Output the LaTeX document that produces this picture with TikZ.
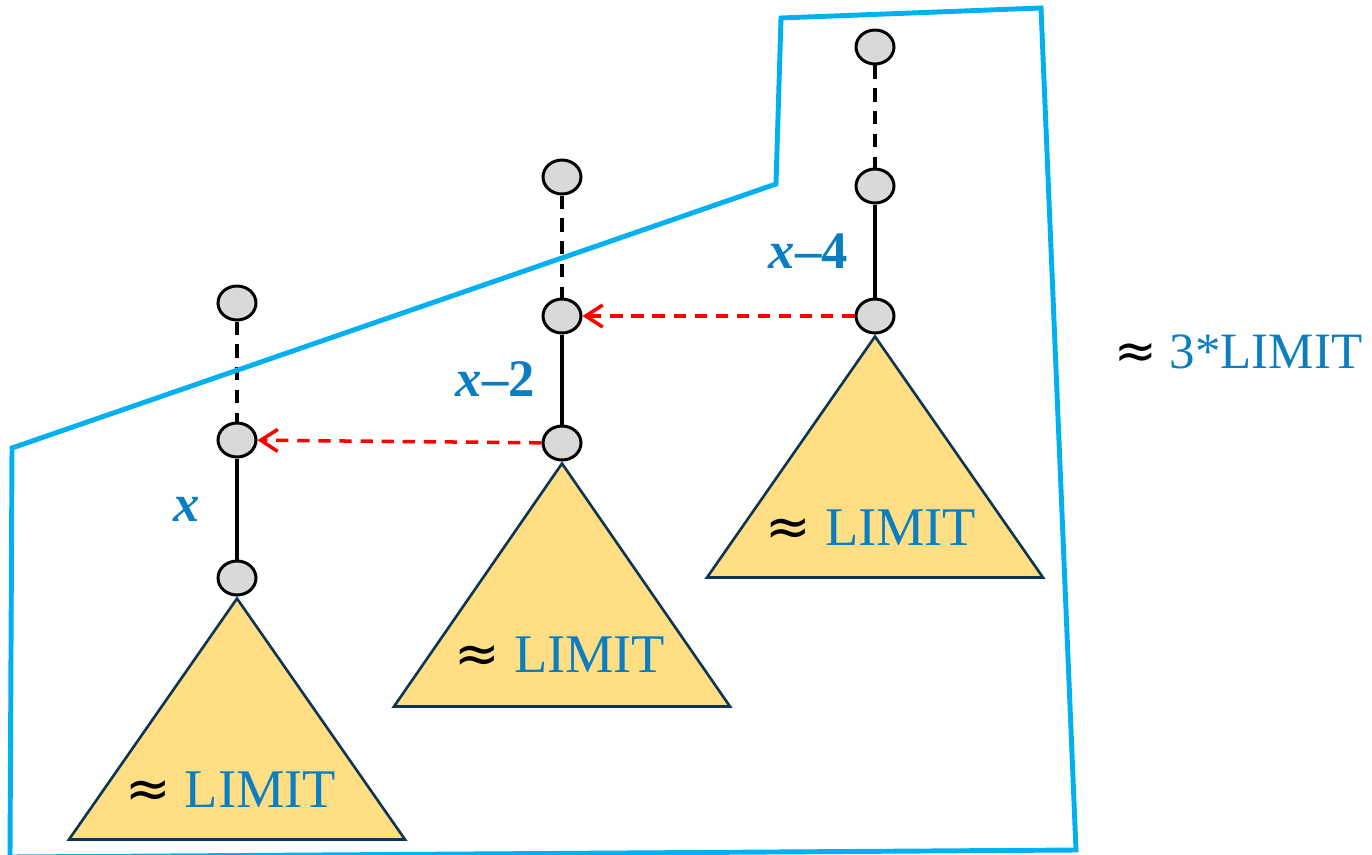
\documentclass[tikz,border=0pt]{standalone}
\usepackage{fontspec}
\setmainfont{Liberation Serif}
\newfontfamily\approxfont{DejaVu Sans}
\usepackage{tikz}
\usetikzlibrary{arrows.meta, positioning, shapes.geometric}
\definecolor{hullblue}{HTML}{00B0F0}
\definecolor{limblue}{HTML}{0B7EC2}
\definecolor{treefill}{HTML}{FFDE84}
\definecolor{treeedge}{HTML}{0E3553}
\definecolor{vtxgray}{HTML}{D9D9D9}
\newcommand{\approxsym}{{\approxfont ≈}}

\begin{document}
\begin{tikzpicture}[
    vtx/.style={ellipse, draw=black, fill=vtxgray, line width=1.7pt, minimum width=0.76cm, minimum height=0.68cm, inner sep=0pt},
    chain/.style={line width=2.2pt, black},
    skip/.style={line width=2.2pt, black, dash pattern=on 7.5pt off 5.5pt},
    subtree/.style={draw=treeedge, fill=treefill, line width=1.5pt, line join=miter},
    limitlbl/.style={font=\fontsize{31}{31}\selectfont, inner sep=0pt},
    idxlbl/.style={font=\fontsize{30}{30}\selectfont\bfseries, text=limblue, inner sep=0pt},
    jump/.style={-{Straight Barb[length=3.4mm, width=4.4mm, line width=2pt]}, line width=2pt, red, dash pattern=on 7pt off 5pt}
]
    \useasboundingbox (0,0) rectangle (27.44,-17.08);

    % Columns of vertices
    \node[vtx] (a1) at (4.74,-6.06) {};
    \node[vtx] (a2) at (4.74,-8.80) {};
    \node[vtx] (a3) at (4.74,-11.56) {};

    \node[vtx] (b1) at (11.24,-3.54) {};
    \node[vtx] (b2) at (11.24,-6.32) {};
    \node[vtx] (b3) at (11.24,-8.86) {};

    \node[vtx] (c1) at (17.50,-0.94) {};
    \node[vtx] (c2) at (17.50,-3.72) {};
    \node[vtx] (c3) at (17.50,-6.32) {};

    % Edges
    \draw[skip] (a1) -- (a2);
    \draw[chain] (a2) -- node[idxlbl, midway, left=0.7cm] {\itshape x} (a3);
    \draw[skip] (b1) -- (b2);
    \draw[chain] (b2) -- node[idxlbl, midway, left=0.5cm] {{\itshape x}–2} (b3);
    \draw[skip] (c1) -- (c2);
    \draw[chain] (c2) -- node[idxlbl, midway, left=0.5cm] {{\itshape x}–4} (c3);

    % Subtrees
    \draw[subtree] ([yshift=-0.04cm]a3.south) -- ++(3.36,-4.82) -- ++(-6.72,0) -- cycle;
    \draw[subtree] ([yshift=-0.04cm]b3.south) -- ++(3.36,-4.86) -- ++(-6.72,0) -- cycle;
    \draw[subtree] ([yshift=-0.04cm]c3.south) -- ++(3.36,-4.82) -- ++(-6.72,0) -- cycle;

    \node[limitlbl] (la) at ([xshift=-0.12cm, yshift=-3.86cm]a3.south) {\approxsym\ \textcolor{limblue}{LIMIT}};
    \node[limitlbl] (lb) at ([xshift=-0.04cm, yshift=-3.86cm]b3.south) {\approxsym\ \textcolor{limblue}{LIMIT}};
    \node[limitlbl] (lc) at ([xshift=-0.08cm, yshift=-3.86cm]c3.south) {\approxsym\ \textcolor{limblue}{LIMIT}};

    % Jumps
    \draw[jump] (c3) -- (b2);
    \draw[jump] (b3) -- (a2);

    % Hull
    \draw[hullblue, line width=2.8pt, line join=miter]
        (0.20,-17.14) -- (0.24,-8.96) -- (15.52,-3.68) -- (15.62,-0.36)
        -- (20.82,-0.16) -- (21.52,-17.00) -- cycle;

    \node[limitlbl, font=\fontsize{29}{29}\selectfont, anchor=west] (total) at (22.28,-7.04) {\approxsym\ \textcolor{limblue}{3*LIMIT}};
\end{tikzpicture}
\end{document}
